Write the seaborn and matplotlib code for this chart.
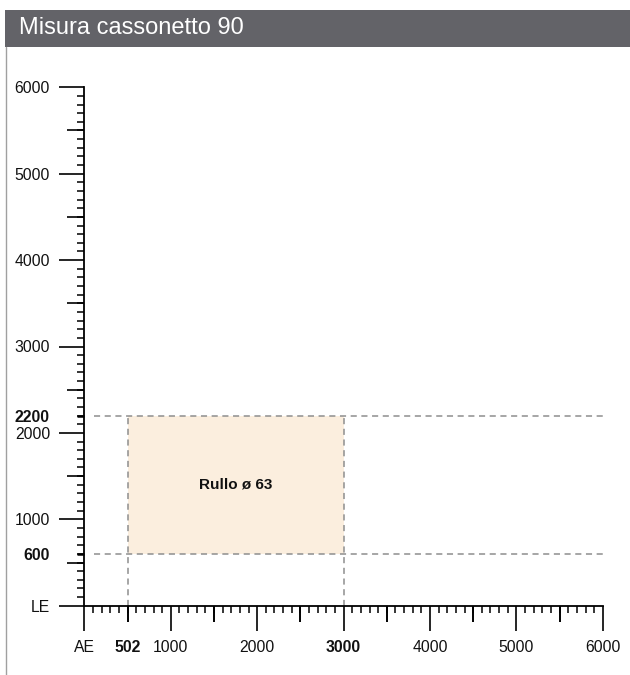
import seaborn as sns
import matplotlib.pyplot as plt
from matplotlib.patches import Rectangle
from matplotlib.lines import Line2D

# Misura cassonetto 90 - campo di utilizzo rullo
title = "Misura cassonetto 90"
x_major = [0, 1000, 2000, 3000, 4000, 5000, 6000]
x_labels = ["AE", "1000", "2000", "3000", "4000", "5000", "6000"]
y_major = [0, 1000, 2000, 3000, 4000, 5000, 6000]
y_labels = ["LE", "1000", "2000", "3000", "4000", "5000", "6000"]
x_mid = [502, 1500, 2500, 3500, 4500, 5500]
x_mid_labels = ["502", "", "", "", "", ""]
y_mid = [500, 1500, 2500, 3500, 4500, 5500]
y_extra = [600, 2200]
y_extra_labels = ["600", "2200"]
rullo_x = [502, 3000]
rullo_y = [600, 2200]
rullo_label = "Rullo ø 63"
bold_x = ["3000", "502"]

sns.set_style("white")
plt.rcParams['font.family'] = ['Liberation Sans', 'DejaVu Sans']

W, H = 630, 675
fig = plt.figure(figsize=(W / 100, H / 100), dpi=100)
ax = fig.add_axes([84.4 / W, 69.3 / H, 518.4 / W, 518.4 / H])
ax.set_xlim(0, 6000)
ax.set_ylim(0, 6000)

# area rullo
ax.fill_between(rullo_x, rullo_y[0], rullo_y[1], color='#fbeede', lw=0, zorder=1)
dash = (0, (4, 3))
ax.hlines(rullo_y, 110, 6000, colors='#8e8e8e', linestyles=dash, lw=1.1, zorder=2)
ax.vlines(rullo_x, 0, rullo_y[1], colors='#8e8e8e', linestyles=dash, lw=1.1, zorder=2)
ax.text(sum(rullo_x) / 2, sum(rullo_y) / 2, rullo_label, ha='center', va='center',
        fontsize=11, fontweight='bold', color='#111111')

sns.despine(ax=ax)
for s in ['left', 'bottom']:
    ax.spines[s].set_color('black')
    ax.spines[s].set_linewidth(1.3)

# tacche principali e minori
ax.set_xticks(x_major, x_labels)
ax.set_yticks(y_major, y_labels)
ax.set_xticks(list(range(0, 6001, 100)), minor=True)
ax.set_yticks(list(range(0, 6001, 100)), minor=True)
ax.tick_params(which='major', length=18, width=1.2, color='black', direction='out',
               labelsize=11.3, labelcolor='#111111', bottom=True, left=True)
ax.tick_params(axis='x', which='major', pad=6.5)
ax.tick_params(axis='y', which='major', pad=6.7)
ax.tick_params(which='minor', length=5, width=1.1, color='black', direction='out',
               bottom=True, left=True)
for t in ax.get_xticklabels():
    if t.get_text() in bold_x:
        t.set_fontweight('bold')

# tacche intermedie
secx = ax.secondary_xaxis('bottom')
secx.set_xticks(x_mid, x_mid_labels)
secx.spines['bottom'].set_visible(False)
secx.tick_params(length=11.5, width=1.4, color='black', direction='out', pad=13,
                 labelsize=11.3, labelcolor='#111111')
for t in secx.get_xticklabels():
    if t.get_text() in bold_x:
        t.set_fontweight('bold')

secy = ax.secondary_yaxis('left')
secy.set_yticks(y_mid, [""] * len(y_mid))
secy.set_yticks(y_extra, y_extra_labels, minor=True)
secy.spines['left'].set_visible(False)
secy.tick_params(which='major', length=12.2, width=1.2, color='black', direction='out')
secy.tick_params(which='minor', length=5, width=1.8, color='black', direction='out',
                 pad=20, labelsize=11.3, labelcolor='#111111')
for t in secy.get_yticklabels(minor=True):
    t.set_fontweight('bold')

# intestazione
fig.add_artist(Rectangle((5 / W, 1 - 47 / H), 1, 37 / H, transform=fig.transFigure,
                         color='#636368', lw=0))
fig.add_artist(Line2D([5.5 / W, 5.5 / W], [0, 1 - 47 / H], transform=fig.transFigure,
                      color='#a0a0a0', lw=1))
fig.text(19 / W, 1 - 28.5 / H, title, color='white', fontsize=17, va='center', ha='left')

fig.savefig('out.png', dpi=100)
